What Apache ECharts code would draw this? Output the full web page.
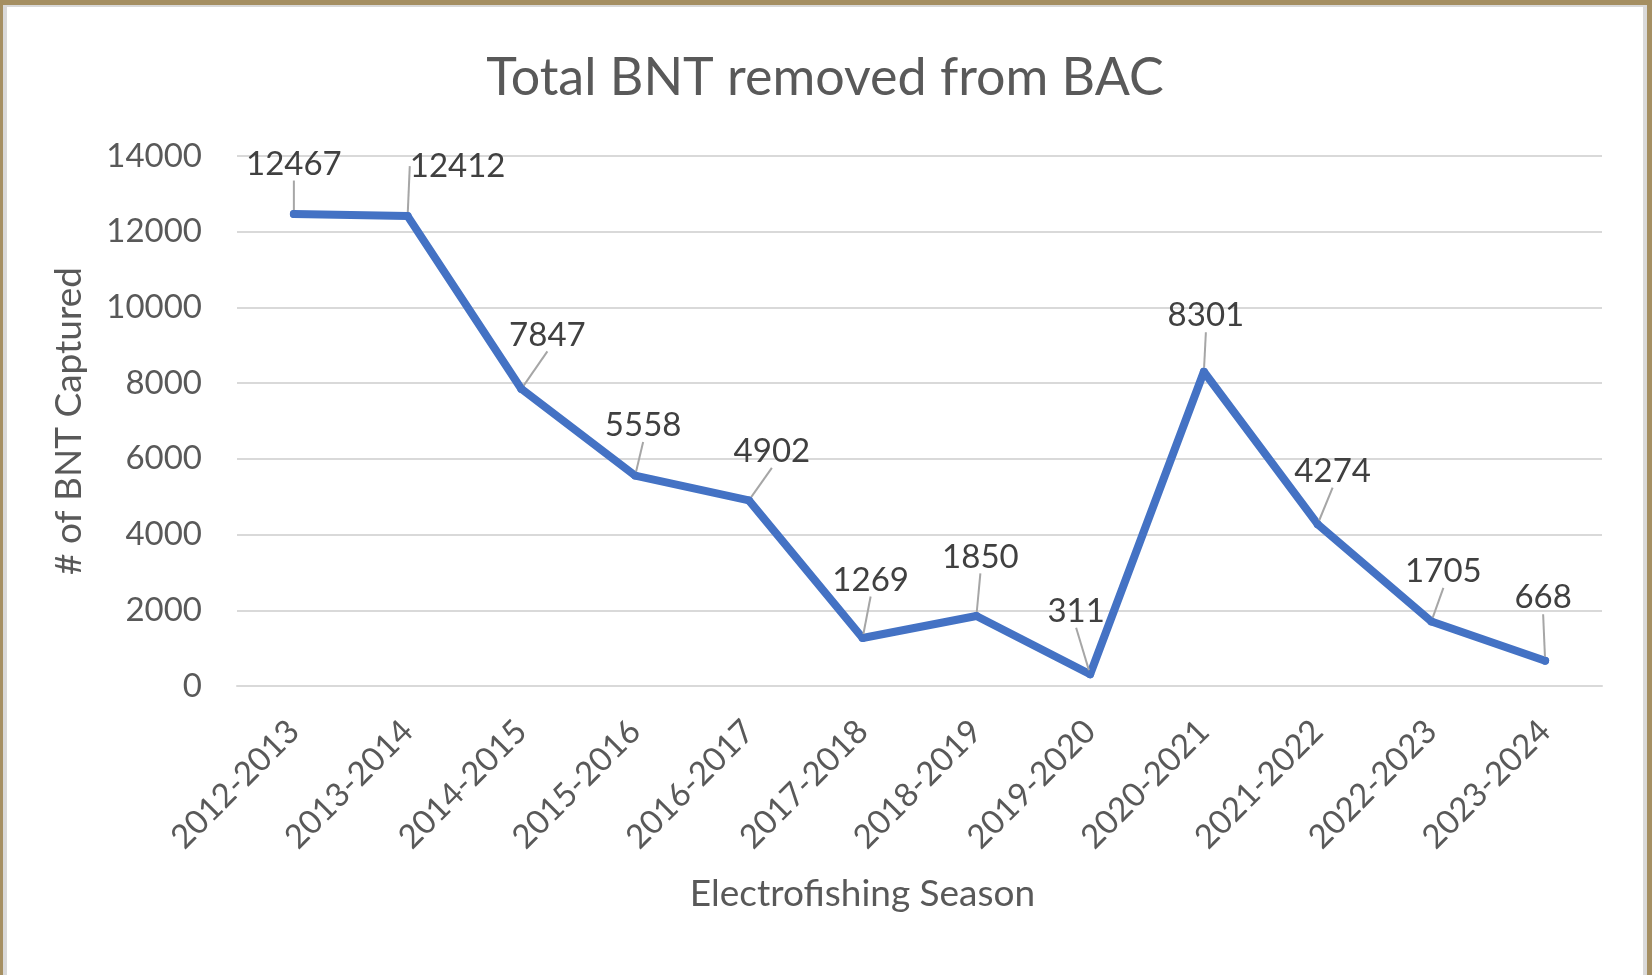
<!DOCTYPE html>
<html>
<head>
<meta charset="utf-8">
<script src="https://cdn.jsdelivr.net/npm/echarts@6/dist/echarts.min.js"></script>
<style>
  html, body { margin: 0; padding: 0; width: 1652px; height: 975px; overflow: hidden; background: #a58f62; }
  .frame { position: absolute; left: 3px; top: 5px; width: 1644px; height: 970px; background: #d9d9d9; }
  #main { position: absolute; left: 4px; top: 2px; width: 1636px; height: 968px; background: #fff; }
</style>
</head>
<body>
<div class="frame"><div id="main"></div></div>
<script>
// seasons and fish counts
var seasons = ['2012-2013', '2013-2014', '2014-2015', '2015-2016', '2016-2017', '2017-2018',
  '2018-2019', '2019-2020', '2020-2021', '2021-2022', '2022-2023', '2023-2024']
var captured = [12467, 12412, 7847, 5558, 4902, 1269, 1850, 311, 8301, 4274, 1705, 668]
var yTicks = [0, 2000, 4000, 6000, 8000, 10000, 12000, 14000]

// where each data label sits relative to its point (like the excel leader lines)
var labelNudge = [[0, -50], [50, -50], [26, -54], [8, -50], [23, -49], [8, -58],
  [4, -59], [-14, -63], [2, -56], [15, -53], [12, -50], [-2, -63]]

var txt = '#595959'
var font = 'Lato'

var myChart = echarts.init(document.getElementById('main'))

var option = {
  animation: false,
  title: {
    text: 'Total BNT removed from BAC',
    left: 'center',
    top: 40,
    textStyle: { fontFamily: font, fontSize: 52, fontWeight: 'normal', color: txt }
  },
  grid: { left: 230, right: 41, top: 149, bottom: 289 },
  xAxis: {
    type: 'category',
    data: seasons,
    name: 'Electrofishing Season',
    nameLocation: 'middle',
    nameGap: 190,
    nameTextStyle: { fontFamily: font, fontSize: 37, color: txt, padding: [0, 114, 0, 0] },
    axisLine: { lineStyle: { color: '#d9d9d9', width: 2 } },
    axisTick: { show: false },
    axisLabel: { rotate: 45, margin: 40, fontFamily: font, fontSize: 33, color: txt, interval: 0 }
  },
  yAxis: {
    type: 'value',
    min: yTicks[0],
    max: yTicks[yTicks.length - 1],
    interval: 2000,
    name: '# of BNT Captured',
    nameLocation: 'middle',
    nameGap: 149,
    nameTextStyle: { fontFamily: font, fontSize: 37, color: txt },
    axisLine: { show: false },
    axisTick: { show: false },
    axisLabel: {
      margin: 35,
      fontFamily: font,
      fontSize: 33,
      color: txt,
      formatter: function (v) { return String(v) }
    },
    splitLine: { lineStyle: { color: '#d9d9d9', width: 2 } }
  },
  series: [
    {
      type: 'line',
      data: captured,
      symbol: 'circle',
      symbolSize: 8,
      itemStyle: { color: '#4472c4' },
      lineStyle: { color: '#4472c4', width: 8, cap: 'round', join: 'round' },
      label: {
        show: true,
        position: 'inside',
        fontFamily: font,
        fontSize: 33,
        color: '#404040'
      },
      labelLine: {
        show: true,
        lineStyle: { color: '#a6a6a6', width: 2 }
      },
      labelLayout: function (params) {
        var n = labelNudge[params.dataIndex]
        return { dx: n[0], dy: n[1] }
      }
    }
  ]
}

myChart.setOption(option)
</script>
</body>
</html>
